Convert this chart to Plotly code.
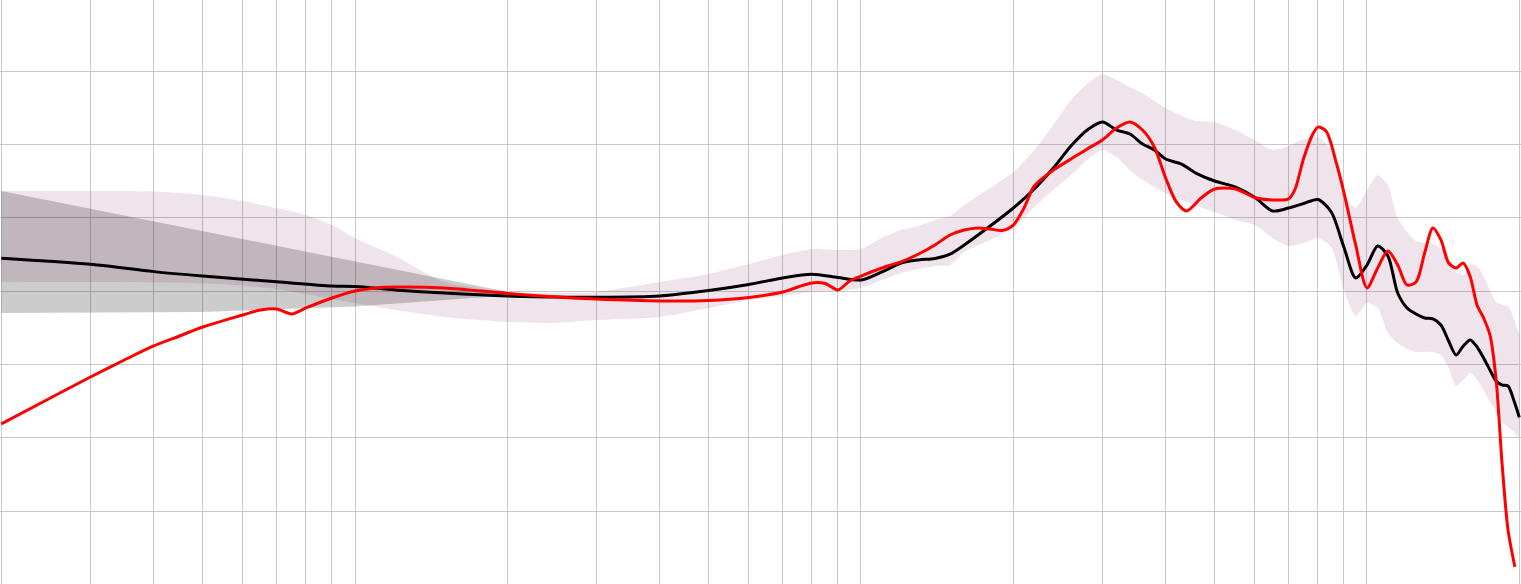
import plotly.graph_objects as go

# ---- Data (frequency in Hz, level in dB) ----
target_freq = [20, 30, 40, 50, 70, 90, 100, 120, 150, 200, 250, 300, 400, 500, 600, 700, 800, 900,
               1000, 1100, 1200, 1300, 1400, 1500, 1600, 1800, 2000, 2200, 2400, 2600, 2800, 3000,
               3200, 3400, 3600, 3800, 4000, 4300, 4600, 5000, 5500, 6000, 6500, 7000, 7500, 8000,
               8500, 9000, 9500, 10000, 10500, 11000, 11500, 12000, 12500, 13000, 13500, 14000,
               14500, 15000, 15500, 16000, 16500, 17000, 17500, 18000, 18500, 19000, 19500, 20000]
target_db = [2.25, 1.84, 1.34, 1.04, 0.65, 0.36, 0.33, 0.09, -0.12, -0.32, -0.39, -0.41, -0.32, 0.05,
             0.46, 0.91, 1.16, 0.94, 0.77, 1.32, 1.93, 2.14, 2.24, 2.54, 3.16, 4.45, 5.68, 6.98, 8.41,
             9.91, 11.0, 11.55, 11.0, 10.73, 10.05, 9.64, 9.02, 8.68, 8.04, 7.52, 7.11, 6.42, 5.48,
             5.68, 5.99, 6.26, 5.41, 3.02, 0.91, 1.79, 3.09, 2.41, -0.12, -1.14, -1.55, -1.82, -1.89,
             -2.3, -3.39, -4.35, -3.73, -3.32, -3.8, -4.55, -5.37, -6.12, -6.4, -6.46, -7.42, -8.6]

meas_freq = [20, 25, 30, 35, 40, 45, 50, 60, 65, 70, 75, 80, 90, 100, 110, 120, 150, 200, 250, 300,
             400, 500, 600, 700, 750, 800, 850, 900, 950, 1000, 1100, 1200, 1300, 1400, 1500, 1600,
             1700, 1800, 1900, 2000, 2100, 2200, 2400, 2600, 2800, 3000, 3200, 3400, 3600, 3800,
             4000, 4200, 4400, 4700, 5000, 5500, 6000, 6500, 7000, 7200, 7500, 7800, 8000, 8300,
             8700, 9000, 9500, 10000, 10500, 11000, 11500, 12000, 12500, 13000, 13500, 14000,
             14500, 15000, 15500, 16000, 16500, 17000, 17500, 18000, 18500, 19000, 19600]
meas_db = [-9.05, -7.28, -5.85, -4.69, -3.73, -3.05, -2.44, -1.62, -1.28, -1.21, -1.55, -1.14, -0.46,
           0.02, 0.23, 0.29, 0.23, -0.15, -0.39, -0.53, -0.66, -0.63, -0.42, -0.05, 0.29, 0.57,
           0.53, 0.09, 0.7, 1.04, 1.59, 2.0, 2.54, 3.16, 3.84, 4.18, 4.32, 4.25, 4.15, 4.52, 5.68,
           7.18, 8.27, 9.02, 9.71, 10.32, 11.14, 11.55, 11.0, 9.84, 7.73, 6.09, 5.48, 6.36, 6.98,
           6.98, 6.4, 6.23, 6.3, 6.91, 9.09, 10.66, 11.2, 10.93, 8.75, 6.77, 3.16, 0.23, 1.59,
           2.75, 1.79, 0.43, 0.63, 2.61, 4.32, 3.5, 1.93, 1.59, 1.93, 0.98, -0.93, -1.82, -2.98,
           -6.05, -11.85, -16.28, -18.8]

band_freq = [20, 30, 40, 50, 60, 70, 80, 90, 100, 120, 150, 200, 250, 300, 400, 500, 600, 700, 800,
             900, 1000, 1100, 1200, 1300, 1400, 1500, 1600, 1800, 2000, 2200, 2400, 2600, 2800,
             3000, 3200, 3400, 3600, 3800, 4000, 4300, 4600, 5000, 5500, 6000, 6500, 7000, 7500,
             8000, 8500, 9000, 9500, 10000, 10500, 11000, 11500, 12000, 12500, 13000, 13500,
             14000, 14500, 15000, 15500, 16000, 16500, 17000, 17500, 18000, 18500, 19000, 19500,
             20000]
band_upper = [6.84, 6.84, 6.81, 6.57, 6.16, 5.68, 5.2, 4.52, 3.64, 2.41, 0.63, -0.05, -0.12, -0.05,
              0.63, 1.18, 1.86, 2.48, 2.89, 2.82, 2.89, 3.64, 4.18, 4.45, 4.86, 5.14, 5.89, 7.05,
              8.14, 9.64, 11.34, 13.05, 14.14, 14.82, 14.41, 13.93, 13.52, 12.98, 12.5, 11.96,
              11.61, 11.55, 11.0, 10.32, 9.64, 9.91, 10.39, 10.53, 9.64, 6.57, 5.68, 6.91, 7.93,
              7.25, 5.0, 4.05, 3.43, 3.29, 3.23, 2.95, 2.41, 1.32, 1.11, 1.86, 1.73, 1.04, 0.09,
              -0.73, -0.93, -1.0, -1.82, -2.98]
band_lower = [0.65, 0.63, 0.6, 0.53, 0.4, 0.16, -0.18, -0.53, -0.8, -1.28, -1.75, -2.09, -2.16,
              -1.96, -1.75, -1.14, -0.59, -0.32, -0.05, 0.02, 0.23, 0.77, 1.25, 1.52, 1.73, 1.79,
              2.68, 3.5, 4.32, 5.75, 6.91, 7.93, 8.96, 9.64, 9.16, 8.27, 7.59, 7.11, 6.71, 6.23,
              5.82, 5.41, 4.86, 4.52, 3.64, 3.09, 3.29, 3.64, 3.02, 0.09, -1.68, -0.8, -1.14,
              -2.84, -3.53, -3.94, -4.14, -4.14, -4.14, -4.35, -5.23, -6.46, -6.05, -5.57, -6.05,
              -6.73, -7.55, -8.23, -8.92, -9.26, -9.6, -10.0]

shelf_freq = [20, 50, 100, 150, 200, 210]
shelf_upper = [6.84, 4.09, 2.04, 0.84, -0.03, -0.18]
shelf_lower = [-1.48, -1.41, -1.04, -0.59, -0.29, -0.18]

grid_x = [20, 30, 40, 50, 60, 70, 80, 90, 100, 200, 300, 400, 500, 600, 700, 800, 900,
          1000, 2000, 3000, 4000, 5000, 6000, 7000, 8000, 9000, 10000, 20000]

fig = go.Figure()

# pink tolerance band
fig.add_trace(go.Scatter(x=band_freq, y=band_upper, mode="lines",
                         line=dict(width=0, shape="spline", smoothing=0.6),
                         hoverinfo="skip", showlegend=False))
fig.add_trace(go.Scatter(x=band_freq, y=band_lower, mode="lines",
                         line=dict(width=0, shape="spline", smoothing=0.6),
                         fill="tonexty", fillcolor="rgba(130,30,97,0.12)",
                         hoverinfo="skip", showlegend=False))
# gray bass-shelf wedge
fig.add_trace(go.Scatter(x=shelf_freq, y=shelf_upper, mode="lines",
                         line=dict(width=0), hoverinfo="skip", showlegend=False))
fig.add_trace(go.Scatter(x=shelf_freq, y=shelf_lower, mode="lines",
                         line=dict(width=0), fill="tonexty",
                         fillcolor="rgba(0,0,0,0.2)", hoverinfo="skip", showlegend=False))
# target curve
fig.add_trace(go.Scatter(x=target_freq, y=target_db, mode="lines",
                         line=dict(color="#000000", width=3, shape="spline", smoothing=0.8),
                         showlegend=False))
# measured curve
fig.add_trace(go.Scatter(x=meas_freq, y=meas_db, mode="lines",
                         line=dict(color="#ff0000", width=3, shape="spline", smoothing=0.8),
                         showlegend=False))

fig.update_layout(
    width=1521, height=584,
    margin=dict(l=0, r=0, t=0, b=0),
    paper_bgcolor="white", plot_bgcolor="white",
    showlegend=False,
)
fig.update_xaxes(type="log", range=[1.2984, 4.3044], tickmode="array", tickvals=grid_x,
                 showticklabels=False, showgrid=True, gridcolor="#c8c8c8", gridwidth=1,
                 zeroline=False, showline=False, ticks="")
fig.update_yaxes(range=[-19.97, 19.87], tickmode="linear", tick0=0, dtick=5,
                 showticklabels=False, showgrid=True, gridcolor="#c8c8c8", gridwidth=1,
                 zeroline=False, showline=False, ticks="")

fig.write_html("out.html", config={"displayModeBar": False},
               post_script="document.body.style.margin='0';document.body.style.overflow='hidden';")
